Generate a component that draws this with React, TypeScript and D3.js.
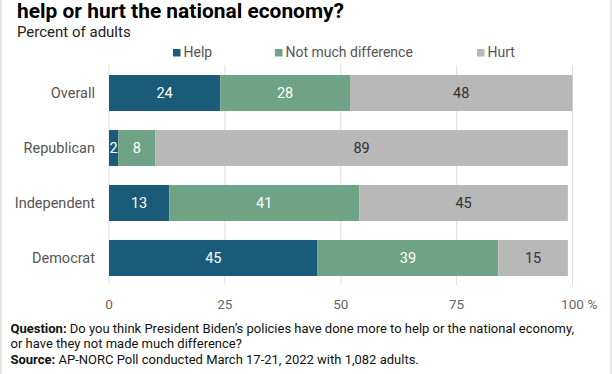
import React from "react";
import * as d3 from "d3";

const categories = ["Overall", "Republican", "Independent", "Democrat"];
const seriesNames = ["Help", "Not much difference", "Hurt"];
const helpValues = [24, 2, 13, 45];
const notMuchValues = [28, 8, 41, 39];
const hurtValues = [48, 89, 45, 15];
const tickValues = [0, 25, 50, 75, 100];
const colors = ["#1a5b7a", "#6fa386", "#b8b8b8"];
const labelColors = ["#ffffff", "#ffffff", "#333333"];

const W = 612;
const H = 374;
const FONT = "Roboto, 'Noto Sans', sans-serif";

export default function App() {
  const x = d3.scaleLinear().domain([0, 100]).range([109, 572.5]);
  const y = d3
    .scaleBand()
    .domain(categories)
    .range([75, 276])
    .paddingInner(0.345)
    .paddingOuter(0);

  const rows = categories.map((c, i) => ({
    cat: c,
    Help: helpValues[i],
    "Not much difference": notMuchValues[i],
    Hurt: hurtValues[i],
  }));
  const stacked = d3.stack<any>().keys(seriesNames)(rows);

  const legendX = [173, 275, 477];

  return (
    <svg
      width={W}
      height={H}
      style={{ position: "absolute", left: 0, top: 0, background: "#fff" }}
      fontFamily={FONT}
    >
      <rect x={0} y={0} width={W} height={H} fill="#fff" />
      <line x1={1} x2={1} y1={0} y2={H} stroke="#dcdcdc" strokeWidth={1.5} />
      <line x1={611} x2={611} y1={0} y2={H} stroke="#dcdcdc" strokeWidth={1.5} />

      <text
        x={17}
        y={18}
        fontSize={20.5}
        fontWeight={700}
        fill="#000"
        textLength={327}
        lengthAdjust="spacingAndGlyphs"
      >
        help or hurt the national economy?
      </text>
      <text x={17} y={37} fontSize={15} fill="#222">
        Percent of adults
      </text>

      {seriesNames.map((s, i) => (
        <g key={s}>
          <rect x={legendX[i]} y={49} width={7.5} height={7.5} fill={colors[i]} />
          <text x={legendX[i] + 10.5} y={57.3} fontSize={14} fill="#555">
            {s}
          </text>
        </g>
      ))}

      {tickValues.map((t) => (
        <g key={t}>
          <line
            x1={x(t)}
            x2={x(t)}
            y1={65}
            y2={285}
            stroke="#dedede"
            strokeWidth={1}
          />
          <text
            x={x(t)}
            y={308.5}
            fontSize={13.5}
            fill="#666"
            textAnchor="middle"
          >
            {t}
          </text>
        </g>
      ))}
      <text x={x(100) + 15} y={308.5} fontSize={13.5} fill="#666">
        %
      </text>

      {categories.map((c) => (
        <text
          key={c}
          x={95}
          y={(y(c) as number) + y.bandwidth() / 2 + 5}
          fontSize={14.5}
          fill="#555"
          textAnchor="end"
        >
          {c}
        </text>
      ))}

      {stacked.map((layer, si) =>
        layer.map((d, i) => {
          const cat = categories[i];
          const x0 = x(d[0]);
          const x1 = x(d[1]);
          const yy = y(cat) as number;
          return (
            <g key={si + "-" + i}>
              <rect
                x={x0}
                y={yy}
                width={x1 - x0}
                height={y.bandwidth()}
                fill={colors[si]}
              />
              <text
                x={(x0 + x1) / 2}
                y={yy + y.bandwidth() / 2 + 5}
                fontSize={14.5}
                fill={labelColors[si]}
                textAnchor="middle"
              >
                {d[1] - d[0]}
              </text>
            </g>
          );
        })
      )}

      <text x={10.5} y={332.5} fontSize={13} fill="#111">
        <tspan fontWeight={700}>Question:</tspan>
        <tspan> Do you think President Biden’s policies have done more to help or the national economy,</tspan>
      </text>
      <text x={10.5} y={348} fontSize={13} fill="#111">
        or have they not made much difference?
      </text>
      <text x={10.5} y={363.5} fontSize={13} fill="#111">
        <tspan fontWeight={700}>Source:</tspan>
        <tspan> AP-NORC Poll conducted March 17-21, 2022 with 1,082 adults.</tspan>
      </text>
    </svg>
  );
}
